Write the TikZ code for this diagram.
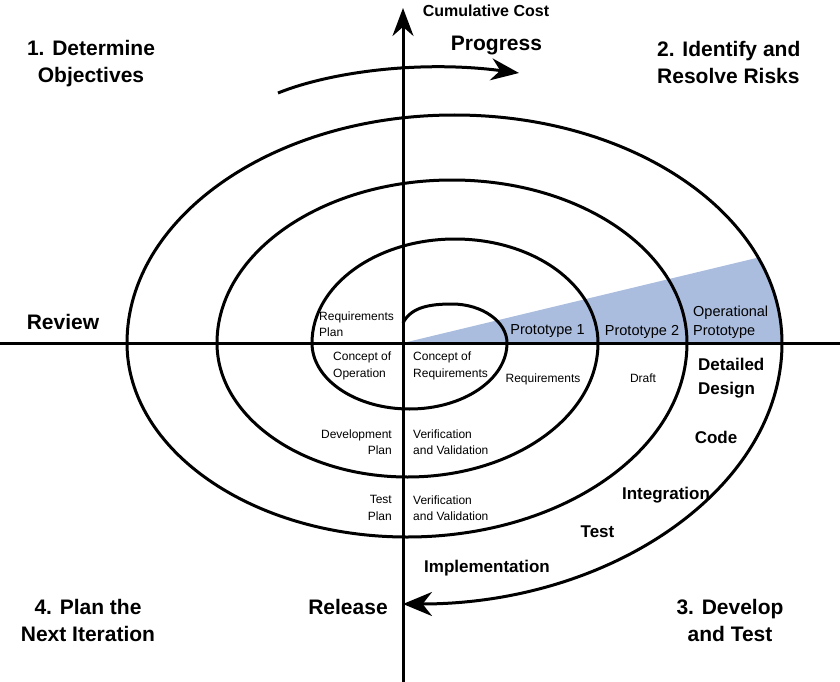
\documentclass[tikz,border=0pt]{standalone}
\usepackage{fontspec}
\setmainfont{Liberation Sans}
\usetikzlibrary{arrows.meta}
\definecolor{wedgeblue}{RGB}{170,189,222}
\begin{document}
\begin{tikzpicture}[x=1pt,y=-1pt,
  line/.style={line width=3pt},
  big/.style={font=\fontsize{21}{27}\selectfont\bfseries, align=center, inner sep=0pt},
  mid/.style={font=\fontsize{17}{24}\selectfont\bfseries, inner sep=0pt},
  proto/.style={font=\fontsize{14.5}{19}\selectfont, inner sep=0pt},
  small/.style={font=\fontsize{12}{16.5}\selectfont, inner sep=0pt}]
\useasboundingbox (0,0) rectangle (840,682);
% coordinates
\coordinate (O) at (403,343);
\coordinate (P) at (758.1,257.6);
\coordinate (AxB) at (403,682);
\coordinate (AxT) at (403,8);
\coordinate (AxL) at (0,343);
\coordinate (AxR) at (840,343);
\coordinate (S0) at (403,323);
\coordinate (S1) at (507,343);
\coordinate (G0) at (278,93);
\coordinate (G1) at (519,73);
% wedge
\fill[wedgeblue] (O) -- (P) arc[start angle=-22,end angle=0,x radius=327.5,y radius=228] -- cycle;
% axes
\draw[line] (AxL) -- (AxR);
\draw[line, -{Stealth[length=28pt,width=21pt]}] (AxB) -- (AxT);
% spiral
\draw[line, -{Stealth[length=29pt,width=24pt]}] (S0) .. controls (411,307) and (430,304) .. (452,304)
  .. controls (482,304) and (507,321.5) .. (S1)
  arc[start angle=0,end angle=180,x radius=97.5,y radius=66]
  arc[start angle=180,end angle=360,x radius=143,y radius=104]
  arc[start angle=0,end angle=180,x radius=190.5,y radius=134]
  arc[start angle=180,end angle=360,x radius=235,y radius=163]
  arc[start angle=0,end angle=180,x radius=280,y radius=194]
  arc[start angle=180,end angle=360,x radius=327.5,y radius=228]
  arc[start angle=0,end angle=90,x radius=379,y radius=261];
% progress arrow
\draw[line, -{Stealth[length=28pt,width=22pt]}] (G0) .. controls (330,72) and (420,60) .. (G1);
% labels
\node[font=\fontsize{16}{19}\selectfont\bfseries, inner sep=0pt] (cum) at (486,10.5) {Cumulative Cost};
\node[big] (prog) at (496.5,45.5) {Progress};
\node[big] (q1) at (91,64) {1. Determine\\Objectives};
\node[big, align=left, anchor=west] (q2) at (657,62.4) {2. Identify and\\Resolve Risks};
\node[big] (review) at (63,322) {Review};
\node[big] (release) at (348,607) {Release};
\node[big] (q4) at (88,620) {4. Plan the\\Next Iteration};
\node[big] (q3) at (730,620) {3. Develop\\and Test};
% inner labels
\node[small, align=left, anchor=west] (reqplan) at (319,324) {Requirements\\Plan};
\node[small, align=left, anchor=west] (conop) at (333,366) {Concept of\\Operation};
\node[small, align=left, anchor=west] (conreq) at (413,366) {Concept of\\Requirements};
\node[small] (req) at (543,379) {Requirements};
\node[small] (draft) at (643,378) {Draft};
\node[proto] (p1) at (547.5,331.5) {Prototype 1};
\node[proto] (p2) at (642,331.5) {Prototype 2};
\node[proto, align=left, anchor=west] (opp) at (693,322) {Operational\\Prototype};
\node[mid, align=left, anchor=west] (dd) at (698,378) {Detailed\\Design};
\node[mid] (code) at (716,437) {Code};
\node[mid] (integ) at (666,495) {Integration};
\node[mid] (test) at (597.5,531.5) {Test};
\node[mid] (impl) at (487,568) {Implementation};
\node[small, align=right, anchor=east] (devplan) at (392,442) {Development\\Plan};
\node[small, align=left, anchor=west] (vv1) at (413,442) {Verification\\and Validation};
\node[small, align=right, anchor=east] (testplan) at (392,508) {Test\\Plan};
\node[small, align=left, anchor=west] (vv2) at (413,508) {Verification\\and Validation};
\end{tikzpicture}
\end{document}
